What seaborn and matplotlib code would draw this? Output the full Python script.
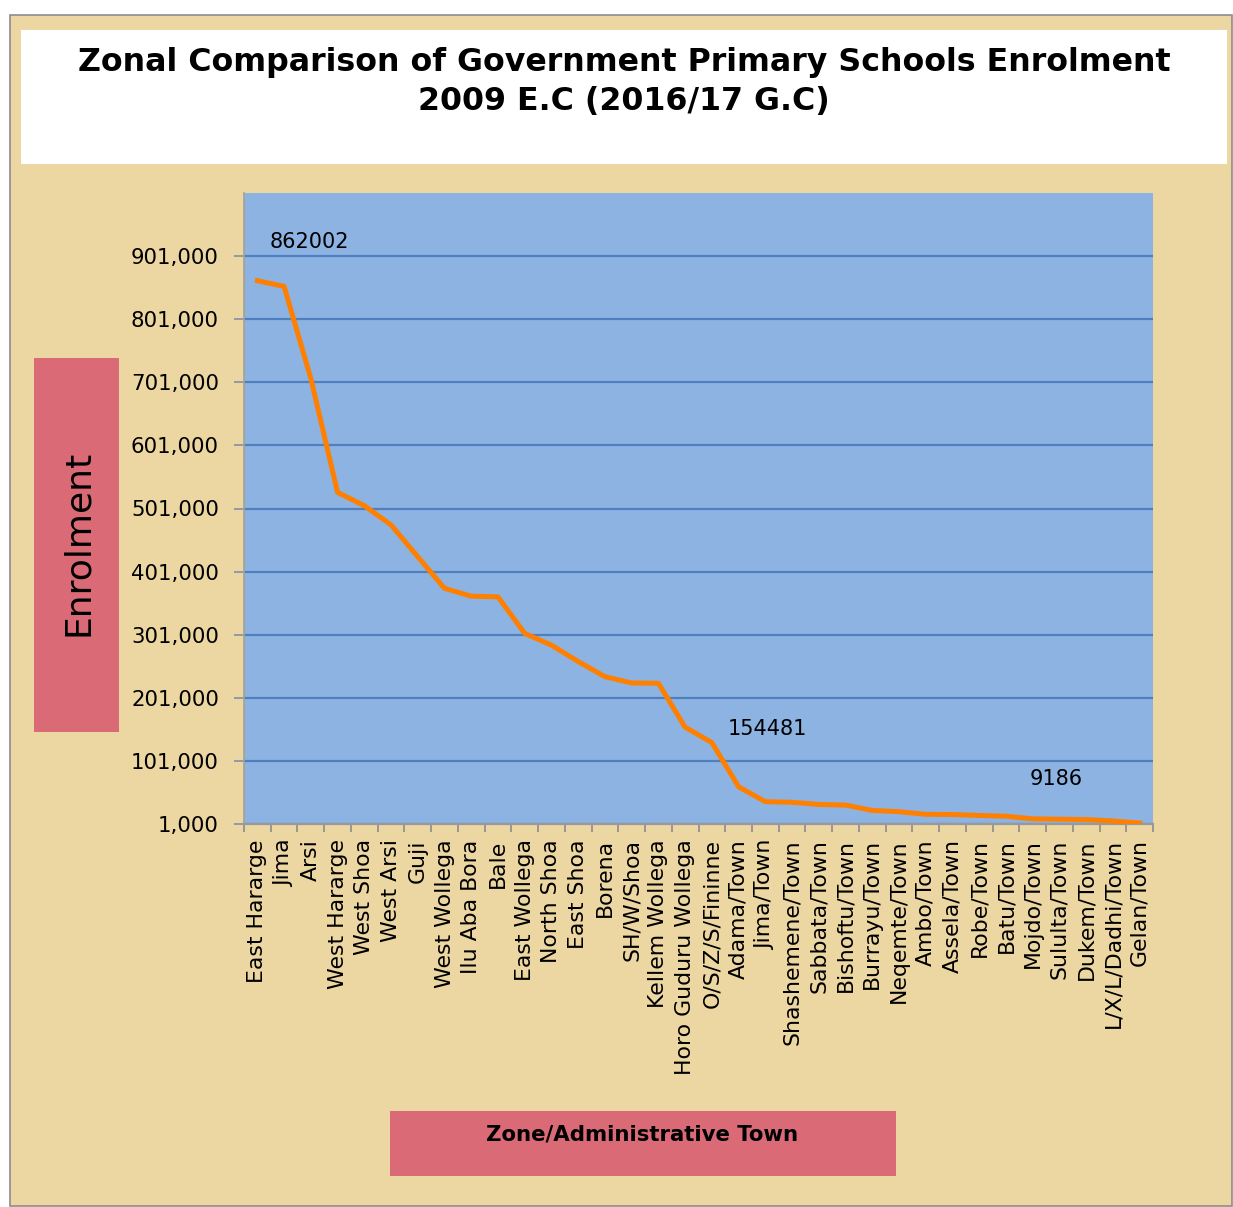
import matplotlib
matplotlib.use("Agg")
import matplotlib.pyplot as plt
import matplotlib.ticker as mticker
from matplotlib.patches import Rectangle
import seaborn as sns
import pandas as pd

categories = [
    "East Hararge", "Jima", "Arsi", "West Hararge", "West Shoa", "West Arsi",
    "Guji", "West Wollega", "Ilu Aba Bora", "Bale", "East Wollega", "North Shoa",
    "East Shoa", "Borena", "SH/W/Shoa", "Kellem Wollega", "Horo Guduru Wollega",
    "O/S/Z/S/Fininne", "Adama/Town", "Jima/Town", "Shashemene/Town",
    "Sabbata/Town", "Bishoftu/Town", "Burrayu/Town", "Neqemte/Town",
    "Ambo/Town", "Assela/Town", "Robe/Town", "Batu/Town", "Mojdo/Town",
    "Sululta/Town", "Dukem/Town", "L/X/L/Dadhi/Town", "Gelan/Town",
]
enrolment = [
    862002, 853000, 707000, 526500, 505500, 475000,
    424500, 374500, 362000, 361000, 303000, 284500,
    258500, 234500, 224500, 224000, 154481,
    130000, 60000, 36400, 35400,
    32000, 31000, 22500, 20500,
    16300, 16000, 14500, 13300, 9186,
    8600, 8000, 5800, 2500,
]
y_ticks = [1000, 101000, 201000, 301000, 401000, 501000, 601000, 701000, 801000, 901000]
labelled = ["East Hararge", "Horo Guduru Wollega", "Mojdo/Town"]

title = "Zonal Comparison of Government Primary Schools Enrolment\n2009 E.C (2016/17 G.C)"
y_label = "Enrolment"
x_label = "Zone/Administrative Town"

df = pd.DataFrame({"zone": categories, "enrolment": enrolment})

W, H = 1233, 1207
fig = plt.figure(figsize=(W / 100, H / 100), dpi=100)
fig.patch.set_facecolor("white")

parchment = "#ECD7A2"
pink = "#D96A76"

def fx(px):
    return px / W

def fy(py):
    return 1 - py / H

# outer parchment panel
fig.add_artist(Rectangle((fx(10), fy(1206)), fx(1232) - fx(10), fy(15) - fy(1206),
                         transform=fig.transFigure, fc=parchment, ec="#8C8C8C", lw=1.2, zorder=0))
# title box
fig.add_artist(Rectangle((fx(21), fy(164)), fx(1227) - fx(21), fy(30) - fy(164),
                         transform=fig.transFigure, fc="white", ec="none", zorder=1))
fig.text(fx(624), fy(82), title, ha="center", va="center", fontsize=22.8,
         fontweight="bold", linespacing=1.3, color="black", zorder=2)

# y label box
fig.add_artist(Rectangle((fx(34), fy(732)), fx(119) - fx(34), fy(358) - fy(732),
                         transform=fig.transFigure, fc=pink, ec="none", zorder=1))
fig.text(fx(78), fy(543), y_label, rotation=90, ha="center", va="center",
         fontsize=26, color="black", zorder=2)

# x label box
fig.add_artist(Rectangle((fx(390), fy(1176)), fx(896) - fx(390), fy(1111) - fy(1176),
                         transform=fig.transFigure, fc=pink, ec="none", zorder=1))
fig.text(fx(642), fy(1135), x_label, ha="center", va="center",
         fontsize=15.3, fontweight="bold", color="black", zorder=2)

ax = fig.add_axes([fx(244), fy(824), fx(1153) - fx(244), fy(193) - fy(824)])
ax.set_facecolor("#8DB3E2")
ax.set_zorder(3)

sns.lineplot(data=df, x="zone", y="enrolment", sort=False, ax=ax,
             color="#FF8000", linewidth=3.6, zorder=3)

ax.set_xlim(-0.5, len(categories) - 0.5)
ax.set_ylim(1000, 1001000)
ax.set_yticks(y_ticks)
ax.yaxis.set_major_formatter(mticker.FuncFormatter(lambda v, p: f"{int(v):,}"))
ax.grid(axis="y", color="#4F7FBF", linewidth=1.6)
ax.grid(axis="x", visible=False)
ax.set_axisbelow(True)

ax.set_xticks(range(len(categories)))
ax.set_xticklabels(categories, rotation=90, fontsize=15.8)
ax.xaxis.set_minor_locator(mticker.FixedLocator([i - 0.5 for i in range(len(categories) + 1)]))
ax.tick_params(axis="x", which="major", length=0, pad=11)
ax.tick_params(axis="x", which="minor", length=6, color="#8C8C8C", width=1.2)
ax.tick_params(axis="y", length=7, color="#8090A8", width=1.2, labelsize=15.3, pad=11)
ax.set_xlabel("")
ax.set_ylabel("")

for side in ["top", "right"]:
    ax.spines[side].set_visible(False)
ax.spines["left"].set_color("#A8A090")
ax.spines["left"].set_linewidth(1.2)
ax.spines["bottom"].set_color("#999999")
ax.spines["bottom"].set_linewidth(1.6)

offsets = {"East Hararge": (37.5, 28), "Horo Guduru Wollega": (59, -1.5), "Mojdo/Town": (17, 28.5)}
for name in labelled:
    i = categories.index(name)
    v = enrolment[i]
    ax.annotate(f"{v}", xy=(i, v), xytext=offsets[name], textcoords="offset points",
                ha="center", va="center", fontsize=15, color="black", zorder=5)

fig.savefig("out.png", dpi=100, facecolor=fig.get_facecolor())
